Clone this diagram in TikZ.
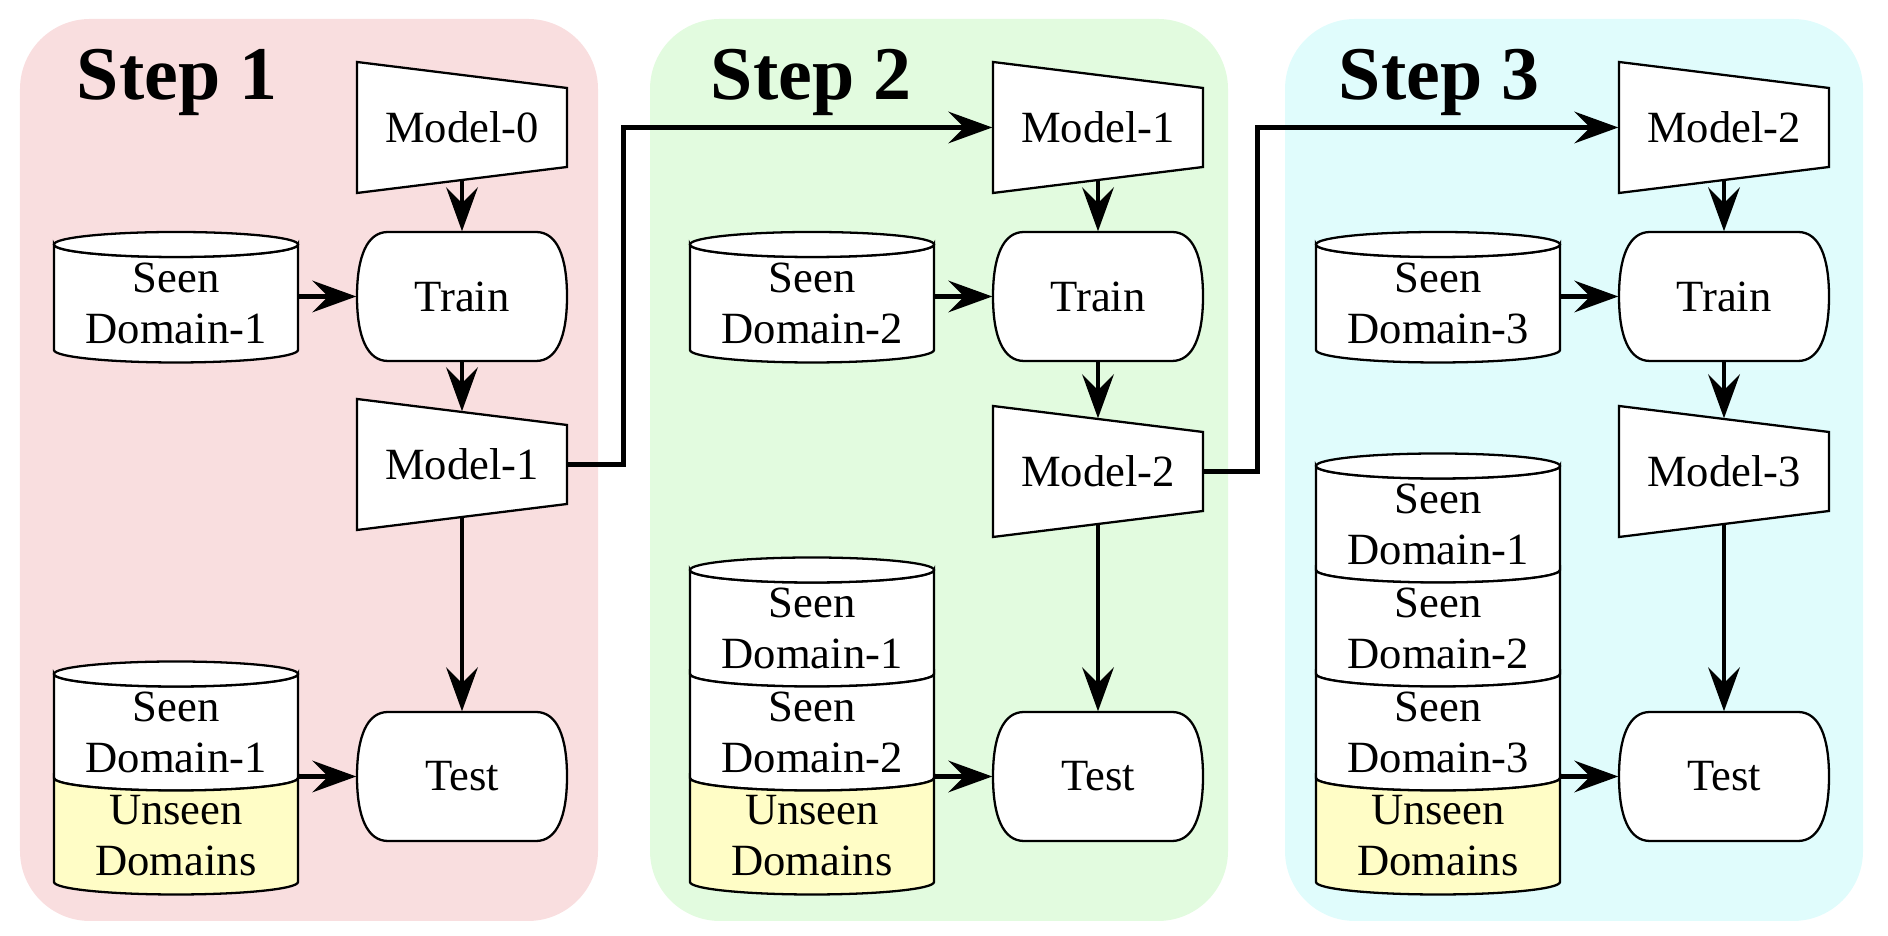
\documentclass[tikz,border=0pt]{standalone}
\usepackage{fontspec}
\setmainfont{Liberation Serif}
\usepackage{xcolor}
\usepackage{tikz}
\usetikzlibrary{arrows.meta}

\definecolor{stepred}{RGB}{249,222,223}
\definecolor{stepgreen}{RGB}{226,251,223}
\definecolor{stepcyan}{RGB}{224,252,252}
\definecolor{unseenyellow}{RGB}{255,253,198}

\begin{document}
\begin{tikzpicture}[
	font=\fontsize{12.7}{14.5}\selectfont,
	panel/.style={rounded corners=0.7cm},
	model/.style={minimum width=2.10cm, minimum height=1.05cm, inner sep=0pt},
	proc/.style={minimum width=2.10cm, minimum height=1.29cm, inner sep=0pt},
	seg/.style={align=center, minimum width=2.44cm, inner sep=0pt},
	can/.style={draw=black, line width=0.65pt},
	arr/.style={draw=black, line width=1.35pt, -{Stealth[length=12.5pt, width=9pt, inset=4.5pt]}},
	title/.style={font=\fontsize{21.6}{24}\selectfont\bfseries, anchor=base},
	modelshape/.pic={\filldraw[can, fill=white] (-1.05,0.655) -- (1.05,0.395) -- (1.05,-0.395) -- (-1.05,-0.655) -- cycle;},
	procshape/.pic={\filldraw[can, fill=white] (-0.74,0.645) -- (0.74,0.645) .. controls (0.95,0.645) and (1.05,0.40) .. (1.05,0) .. controls (1.05,-0.40) and (0.95,-0.645) .. (0.74,-0.645) -- (-0.74,-0.645) .. controls (-0.95,-0.645) and (-1.05,-0.40) .. (-1.05,0) .. controls (-1.05,0.40) and (-0.95,0.645) .. (-0.74,0.645) -- cycle;}
]
	\useasboundingbox (0,0) rectangle (18.88,9.36);
	\fill[stepred, panel] (0.20,0.15) rectangle (5.98,9.17);
	\fill[stepgreen, panel] (6.50,0.15) rectangle (12.28,9.17);
	\fill[stepcyan, panel] (12.85,0.15) rectangle (18.63,9.17);
	\node[title] (title1) at (1.77,8.36) {Step 1};
	\node[title] (title2) at (8.11,8.36) {Step 2};
	\node[title] (title3) at (14.39,8.36) {Step 3};
	% step 1
	\filldraw[can, fill=white] (0.54,6.915) arc[start angle=180, end angle=360, x radius=1.22, y radius=0.125] -- (2.98,5.86) arc[start angle=0, end angle=-180, x radius=1.22, y radius=0.125] -- cycle;
	\filldraw[can, fill=white] (1.76,6.915) ellipse [x radius=1.22, y radius=0.125];
	\filldraw[can, fill=white] (0.54,2.62) arc[start angle=180, end angle=360, x radius=1.22, y radius=0.125] -- (2.98,1.58) arc[start angle=0, end angle=-180, x radius=1.22, y radius=0.125] -- cycle;
	\filldraw[can, fill=unseenyellow] (0.54,1.58) arc[start angle=180, end angle=360, x radius=1.22, y radius=0.125] -- (2.98,0.54) arc[start angle=0, end angle=-180, x radius=1.22, y radius=0.125] -- cycle;
	\filldraw[can, fill=white] (1.76,2.62) ellipse [x radius=1.22, y radius=0.125];
	\node[seg] (seen11) at (1.76,6.33) {Seen\\Domain-1};
	\node[seg] (test11) at (1.76,2.04) {Seen\\Domain-1};
	\node[seg] (unseen1) at (1.76,1.00) {Unseen\\Domains};
	\pic at (4.62,8.085) {modelshape};
	\node[model] (model10) at (4.62,8.085) {Model-0};
	\pic at (4.62,6.395) {procshape};
	\node[proc] (train1) at (4.62,6.395) {Train};
	\pic at (4.62,4.715) {modelshape};
	\node[model] (model11) at (4.62,4.715) {Model-1};
	\pic at (4.62,1.595) {procshape};
	\node[proc] (test1) at (4.62,1.595) {Test};
	\draw[arr] (model10) -- (train1);
	\draw[arr] (seen11.east |- train1.west) -- (train1.west);
	\draw[arr] (train1) -- (model11);
	\draw[arr] (model11) -- (test1);
	\draw[arr] (unseen1.east |- test1.west) -- (test1.west);
	% step 2
	\filldraw[can, fill=white] (6.90,6.915) arc[start angle=180, end angle=360, x radius=1.22, y radius=0.125] -- (9.34,5.86) arc[start angle=0, end angle=-180, x radius=1.22, y radius=0.125] -- cycle;
	\filldraw[can, fill=white] (8.12,6.915) ellipse [x radius=1.22, y radius=0.125];
	\filldraw[can, fill=white] (6.90,3.66) arc[start angle=180, end angle=360, x radius=1.22, y radius=0.125] -- (9.34,2.62) arc[start angle=0, end angle=-180, x radius=1.22, y radius=0.125] -- cycle;
	\filldraw[can, fill=white] (6.90,2.62) arc[start angle=180, end angle=360, x radius=1.22, y radius=0.125] -- (9.34,1.58) arc[start angle=0, end angle=-180, x radius=1.22, y radius=0.125] -- cycle;
	\filldraw[can, fill=unseenyellow] (6.90,1.58) arc[start angle=180, end angle=360, x radius=1.22, y radius=0.125] -- (9.34,0.54) arc[start angle=0, end angle=-180, x radius=1.22, y radius=0.125] -- cycle;
	\filldraw[can, fill=white] (8.12,3.66) ellipse [x radius=1.22, y radius=0.125];
	\node[seg] (seen22) at (8.12,6.33) {Seen\\Domain-2};
	\node[seg] (test21) at (8.12,3.08) {Seen\\Domain-1};
	\node[seg] (test22) at (8.12,2.04) {Seen\\Domain-2};
	\node[seg] (unseen2) at (8.12,1.00) {Unseen\\Domains};
	\pic at (10.98,8.085) {modelshape};
	\node[model] (model21) at (10.98,8.085) {Model-1};
	\pic at (10.98,6.395) {procshape};
	\node[proc] (train2) at (10.98,6.395) {Train};
	\pic at (10.98,4.645) {modelshape};
	\node[model] (model22) at (10.98,4.645) {Model-2};
	\pic at (10.98,1.595) {procshape};
	\node[proc] (test2) at (10.98,1.595) {Test};
	\draw[arr] (model11.east) -- ++(0.56,0) |- (model21.west);
	\draw[arr] (model21) -- (train2);
	\draw[arr] (seen22.east |- train2.west) -- (train2.west);
	\draw[arr] (train2) -- (model22);
	\draw[arr] (model22) -- (test2);
	\draw[arr] (unseen2.east |- test2.west) -- (test2.west);
	% step 3
	\filldraw[can, fill=white] (13.16,6.915) arc[start angle=180, end angle=360, x radius=1.22, y radius=0.125] -- (15.60,5.86) arc[start angle=0, end angle=-180, x radius=1.22, y radius=0.125] -- cycle;
	\filldraw[can, fill=white] (14.38,6.915) ellipse [x radius=1.22, y radius=0.125];
	\filldraw[can, fill=white] (13.16,4.70) arc[start angle=180, end angle=360, x radius=1.22, y radius=0.125] -- (15.60,3.66) arc[start angle=0, end angle=-180, x radius=1.22, y radius=0.125] -- cycle;
	\filldraw[can, fill=white] (13.16,3.66) arc[start angle=180, end angle=360, x radius=1.22, y radius=0.125] -- (15.60,2.62) arc[start angle=0, end angle=-180, x radius=1.22, y radius=0.125] -- cycle;
	\filldraw[can, fill=white] (13.16,2.62) arc[start angle=180, end angle=360, x radius=1.22, y radius=0.125] -- (15.60,1.58) arc[start angle=0, end angle=-180, x radius=1.22, y radius=0.125] -- cycle;
	\filldraw[can, fill=unseenyellow] (13.16,1.58) arc[start angle=180, end angle=360, x radius=1.22, y radius=0.125] -- (15.60,0.54) arc[start angle=0, end angle=-180, x radius=1.22, y radius=0.125] -- cycle;
	\filldraw[can, fill=white] (14.38,4.70) ellipse [x radius=1.22, y radius=0.125];
	\node[seg] (seen33) at (14.38,6.33) {Seen\\Domain-3};
	\node[seg] (test31) at (14.38,4.12) {Seen\\Domain-1};
	\node[seg] (test32) at (14.38,3.08) {Seen\\Domain-2};
	\node[seg] (test33) at (14.38,2.04) {Seen\\Domain-3};
	\node[seg] (unseen3) at (14.38,1.00) {Unseen\\Domains};
	\pic at (17.24,8.085) {modelshape};
	\node[model] (model32) at (17.24,8.085) {Model-2};
	\pic at (17.24,6.395) {procshape};
	\node[proc] (train3) at (17.24,6.395) {Train};
	\pic at (17.24,4.645) {modelshape};
	\node[model] (model33) at (17.24,4.645) {Model-3};
	\pic at (17.24,1.595) {procshape};
	\node[proc] (test3) at (17.24,1.595) {Test};
	\draw[arr] (model22.east) -- ++(0.54,0) |- (model32.west);
	\draw[arr] (model32) -- (train3);
	\draw[arr] (seen33.east |- train3.west) -- (train3.west);
	\draw[arr] (train3) -- (model33);
	\draw[arr] (model33) -- (test3);
	\draw[arr] (unseen3.east |- test3.west) -- (test3.west);
\end{tikzpicture}
\end{document}
